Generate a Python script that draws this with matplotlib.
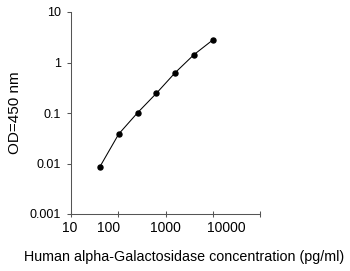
import matplotlib
matplotlib.use("Agg")
import matplotlib.pyplot as plt
import matplotlib.transforms as mtransforms
from matplotlib.ticker import FixedLocator, FixedFormatter, NullLocator, NullFormatter

conc = [40.96, 102.4, 256, 640, 1600, 4000, 10000]
od = [0.00865, 0.0384, 0.101, 0.245, 0.628, 1.43, 2.79]
xticks = [10, 100, 1000, 10000, 100000]
xticklabels = ["10", "100", "1000", "10000", ""]
yticks = [0.001, 0.01, 0.1, 1, 10]
yticklabels = ["0.001", "0.01", "0.1", "1", "10"]

plt.rcParams['font.family'] = ['Liberation Sans', 'DejaVu Sans']

W, H = 350, 271
fig = plt.figure(figsize=(W/100, H/100), dpi=100)
ax = fig.add_axes([71/W, 1 - 214/H, (260-71)/W, (214-12)/H])
ax.plot(conc, od, color='black', lw=0.75, marker='o', ms=3.6, mfc='black', mec='black')
ax.set_xscale('log')
ax.set_yscale('log')
ax.set_xlim(10, 100000)
ax.set_ylim(0.001, 10)
ax.xaxis.set_major_locator(FixedLocator(xticks))
ax.xaxis.set_major_formatter(NullFormatter())
ax.yaxis.set_major_locator(FixedLocator(yticks))
ax.yaxis.set_major_formatter(FixedFormatter(yticklabels))
ax.xaxis.set_minor_locator(NullLocator())
ax.yaxis.set_minor_locator(NullLocator())
for s in ['top', 'right']:
    ax.spines[s].set_visible(False)
for s in ['left', 'bottom']:
    ax.spines[s].set_linewidth(0.75)
    ax.spines[s].set_color('#555555')
ax.tick_params(axis='y', direction='out', length=3, width=0.75, color='#555555',
               labelsize=9, labelcolor='black', pad=4.5)
ax.tick_params(axis='x', direction='inout', length=4, width=0.75, color='#555555')

# x tick labels (drawn as text with small horizontal offsets as in the reference)
x_offsets_px = [-1, -10, 0, 14, 0]
xtrans = ax.get_xaxis_transform()
for xv, lab, dx in zip(xticks, xticklabels, x_offsets_px):
    if not lab:
        continue
    tr = xtrans + mtransforms.ScaledTranslation(dx/100, -6.5/100, fig.dpi_scale_trans)
    ax.text(xv, 0, lab, transform=tr, ha='center', va='top', fontsize=10, color='black')

fig.text(15/W, 1 - 113/H, 'OD=450 nm', rotation=90, ha='center', va='center', fontsize=11)
fig.text(184/W, 1 - 257.5/H, 'Human alpha-Galactosidase concentration (pg/ml)',
         ha='center', va='center', fontsize=10.3)
fig.savefig('out.png', dpi=100)
